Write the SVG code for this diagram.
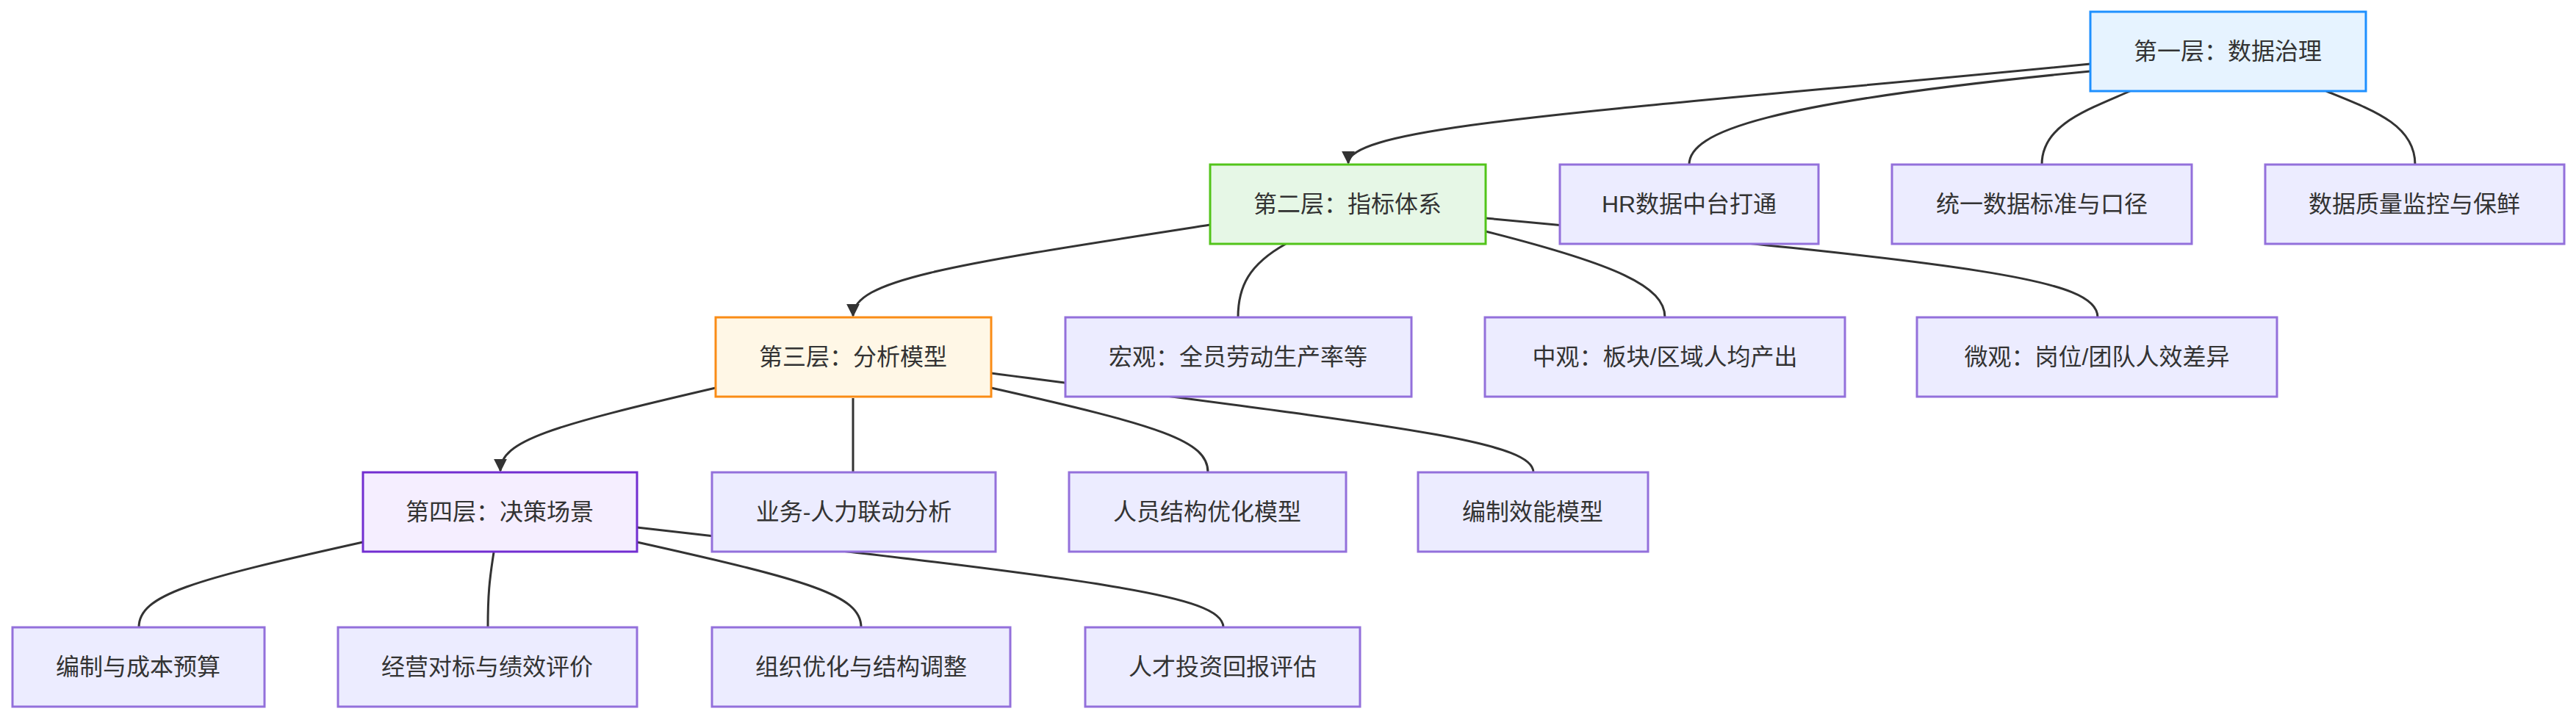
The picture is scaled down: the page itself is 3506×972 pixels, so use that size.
<svg xmlns="http://www.w3.org/2000/svg" width="3506" height="972" viewBox="0 0 3506 972">
<style>
.n rect{stroke-width:3}
.d rect{fill:#ECECFF;stroke:#9370DB}
text{font-family:"Liberation Sans","Noto Sans CJK SC",sans-serif;font-size:32px;fill:#333;text-anchor:middle;dominant-baseline:central}
.e path{fill:none;stroke:#333;stroke-width:3}
</style>
<defs><marker id="a" viewBox="0 0 10 10" refX="9" refY="5" markerWidth="6" markerHeight="6" orient="auto"><path d="M0,0L10,5L0,10z" fill="#333"/></marker></defs>
<rect width="3506" height="972" fill="#fff"/>
<g class="e">
<path d="M2845,87 C2200,150 1835,170 1835,222" marker-end="url(#a)"/>
<path d="M2845,97 C2400,140 2299,180 2299,224"/>
<path d="M2899,124 C2840,150 2779,170 2779,224"/>
<path d="M3166,124 C3230,150 3287,170 3287,224"/>
<path d="M1647,306 C1300,360 1161,380 1161,430" marker-end="url(#a)"/>
<path d="M1750,332 C1700,360 1685,390 1685,432"/>
<path d="M2022,315 C2200,360 2266,390 2266,432"/>
<path d="M2022,297 C2700,360 2855,380 2855,432"/>
<path d="M974,528 C750,580 681,600 681,641" marker-end="url(#a)"/>
<path d="M1161,542 L1161,643"/>
<path d="M1349,528 C1580,580 1644,600 1644,643"/>
<path d="M1349,508 C1900,580 2087,600 2087,643"/>
<path d="M494,738 C260,790 189,810 189,854"/>
<path d="M672,752 C666,790 664,810 664,854"/>
<path d="M867,738 C1100,790 1172,810 1172,854"/>
<path d="M867,718 C1500,790 1665,810 1665,854"/>
</g>
<g id="L1" class="n"><rect x="2845" y="16" width="375" height="108" fill="#E6F3FF" stroke="#1E90FF"/><text x="3032" y="70">第一层：数据治理</text></g>
<g id="L2" class="n"><rect x="1647" y="224" width="375" height="108" fill="#E6F7E6" stroke="#52C41A"/><text x="1834" y="278">第二层：指标体系</text></g>
<g id="HR" class="n d"><rect x="2123" y="224" width="352" height="108"/><text x="2299" y="278">HR数据中台打通</text></g>
<g id="TY" class="n d"><rect x="2575" y="224" width="408" height="108"/><text x="2779" y="278">统一数据标准与口径</text></g>
<g id="ZL" class="n d"><rect x="3083" y="224" width="407" height="108"/><text x="3286" y="278">数据质量监控与保鲜</text></g>
<g id="L3" class="n"><rect x="974" y="432" width="375" height="108" fill="#FFF7E6" stroke="#FA8C16"/><text x="1161" y="486">第三层：分析模型</text></g>
<g id="HG" class="n d"><rect x="1450" y="432" width="471" height="108"/><text x="1685" y="486">宏观：全员劳动生产率等</text></g>
<g id="ZG" class="n d"><rect x="2021" y="432" width="490" height="108"/><text x="2266" y="486">中观：板块/区域人均产出</text></g>
<g id="WG" class="n d"><rect x="2609" y="432" width="490" height="108"/><text x="2854" y="486">微观：岗位/团队人效差异</text></g>
<g id="L4" class="n"><rect x="494" y="643" width="373" height="108" fill="#F5EEFF" stroke="#722ED1"/><text x="680" y="697">第四层：决策场景</text></g>
<g id="YW" class="n d"><rect x="969" y="643" width="386" height="108"/><text x="1162" y="697">业务-人力联动分析</text></g>
<g id="RY" class="n d"><rect x="1455" y="643" width="377" height="108"/><text x="1643" y="697">人员结构优化模型</text></g>
<g id="BZ" class="n d"><rect x="1930" y="643" width="313" height="108"/><text x="2086" y="697">编制效能模型</text></g>
<g id="B1" class="n d"><rect x="17" y="854" width="343" height="108"/><text x="188" y="908">编制与成本预算</text></g>
<g id="B2" class="n d"><rect x="460" y="854" width="407" height="108"/><text x="663" y="908">经营对标与绩效评价</text></g>
<g id="B3" class="n d"><rect x="969" y="854" width="406" height="108"/><text x="1172" y="908">组织优化与结构调整</text></g>
<g id="B4" class="n d"><rect x="1477" y="854" width="374" height="108"/><text x="1664" y="908">人才投资回报评估</text></g>
</svg>
